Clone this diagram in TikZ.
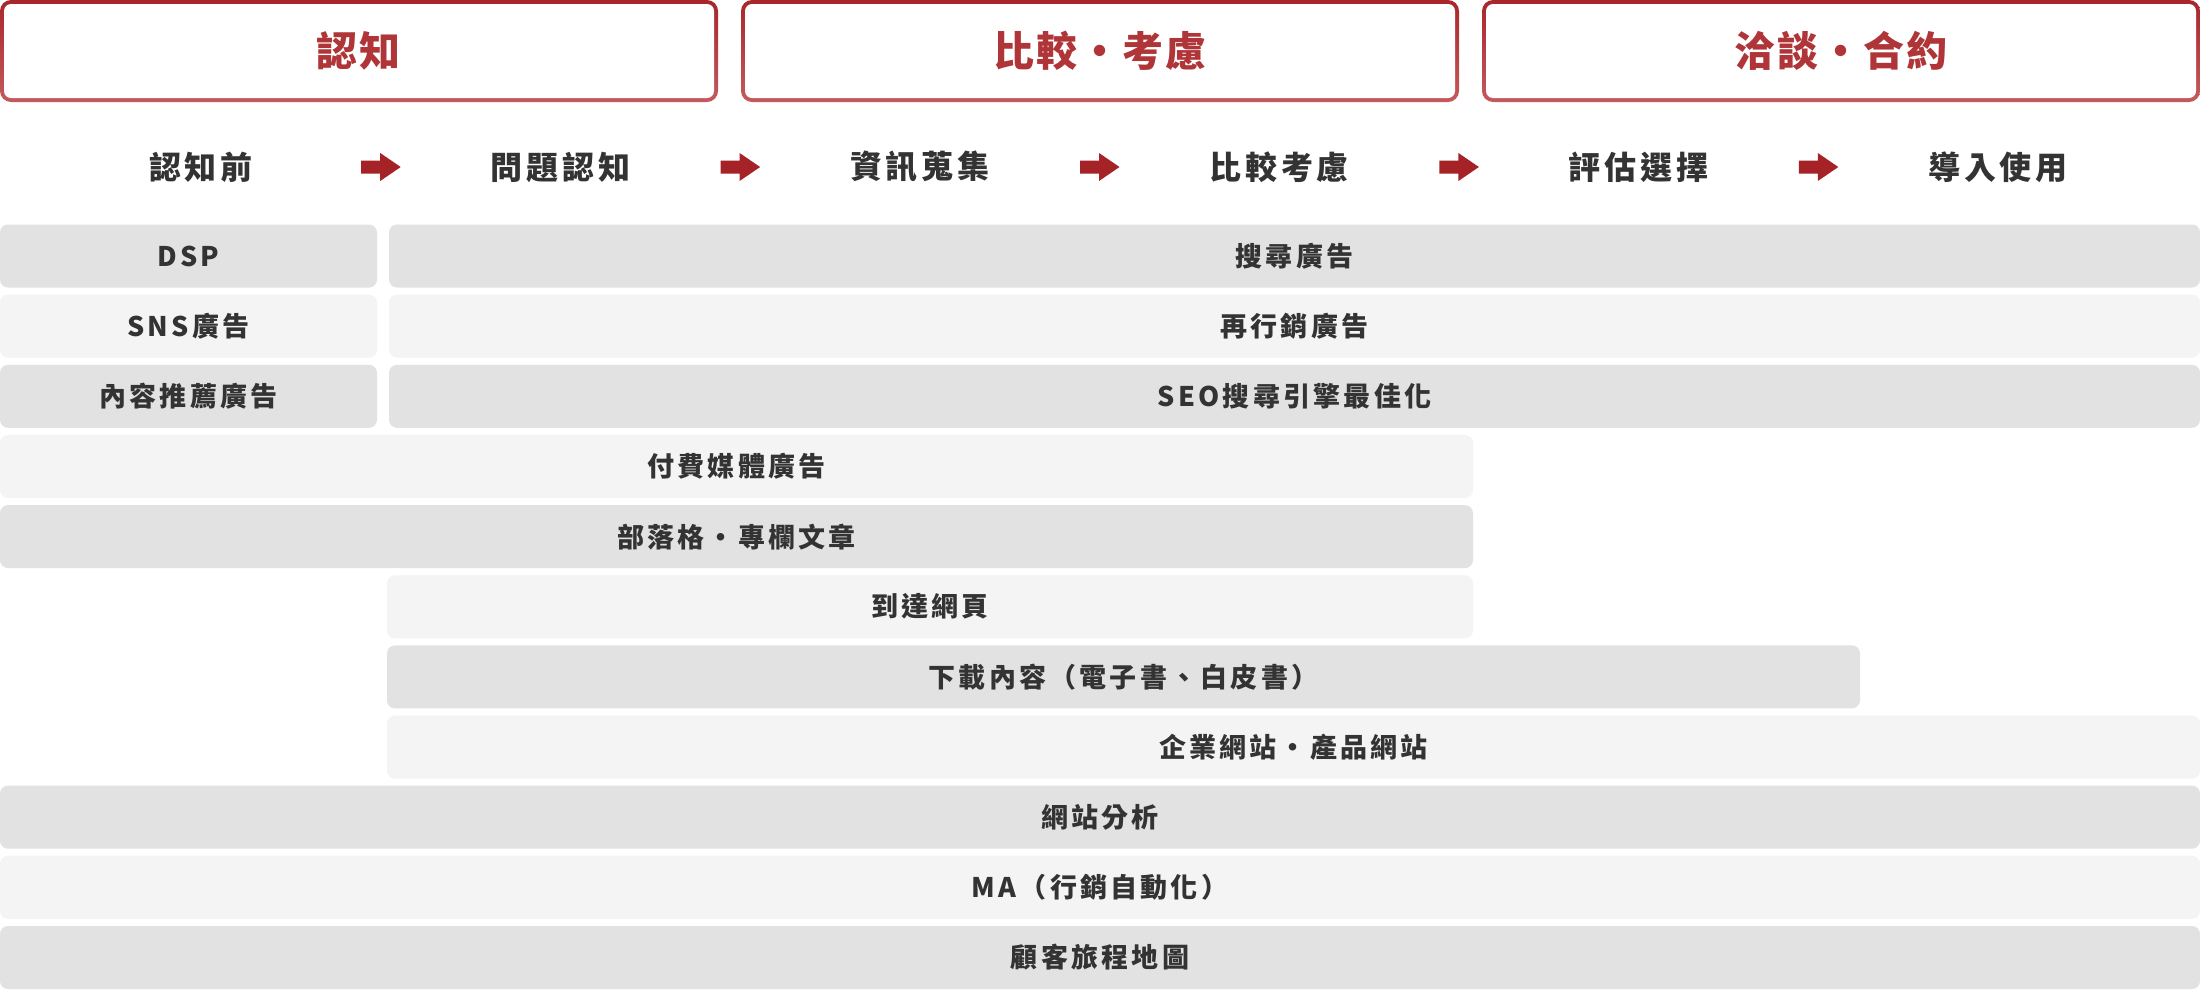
\documentclass[tikz,border=0pt]{standalone}
\usepackage{fontspec}
\usetikzlibrary{calc}
\setmainfont{Noto Sans CJK TC}
\newfontfamily\topfont{Noto Sans CJK TC}[LetterSpace=5]
\newfontfamily\stagefont{Noto Sans CJK TC}[LetterSpace=12]
\newfontfamily\barfont{Noto Sans CJK TC}[LetterSpace=12]
\definecolor{redtop}{HTML}{A8262B}
\definecolor{redbot}{HTML}{C45A5C}
\definecolor{redtext}{HTML}{B03538}
\definecolor{arrowred}{HTML}{A52327}
\definecolor{bardark}{HTML}{E2E2E2}
\definecolor{barlight}{HTML}{F4F4F4}
\definecolor{txt}{HTML}{333333}
\tikzset{
  toplabel/.style={inner sep=0pt, text=redtext, font=\topfont\bfseries\fontsize{41}{48}\selectfont},
  stagelabel/.style={inner sep=0pt, text=txt, font=\stagefont\bfseries\fontsize{32}{38}\selectfont},
  stagearrow/.style={fill=arrowred, draw=none},
  barbox/.style={rounded corners=8pt, inner sep=0pt, minimum height=63pt, text=txt, font=\barfont\bfseries\fontsize{27}{32}\selectfont}
}
\newcommand\mkbar[6]{\node[barbox, fill=#5, minimum width={(#3-#2)*1pt}] (#1) at ({(#2+#3)/2}, {256+70.15*(#4-1)}) {#6};}
\newcommand\mktop[4]{%
  \shade[top color=redtop, bottom color=redbot, rounded corners=11pt] (#2,0) rectangle (#3,102);
  \fill[white, rounded corners=7pt] ({#2+4},4) rectangle ({#3-4},98);
  \node[toplabel] (#1) at ({(#2+#3)/2},51) {#4};}
\newcommand\mkarrow[3]{%
  \coordinate (#1) at ($(#2)!0.5!(#3)$);
  \fill[stagearrow] (#1) ++(-19.5,-6.5) -- ++(19,0) -- ++(0,-7.5) -- ++(20.5,14) -- ++(-20.5,14) -- ++(0,-7.5) -- ++(-19,0) -- cycle;}
\begin{document}
\begin{tikzpicture}[x=1pt,y=-1pt]
\useasboundingbox (0,0) rectangle (2200,989);
\fill[white] (0,0) rectangle (2200,989);
% phase boxes
\mktop{p1}{0}{718}{認知}
\mktop{p2}{741}{1459}{比較・考慮}
\mktop{p3}{1482}{2200}{洽談・合約}
% stages
\node[stagelabel] (s1) at (201,167) {認知前};
\node[stagelabel] (s2) at (560.4,167) {問題認知};
\node[stagelabel] (s3) at (919.8,167) {資訊蒐集};
\node[stagelabel] (s4) at (1279.2,167) {比較考慮};
\node[stagelabel] (s5) at (1638.6,167) {評估選擇};
\node[stagelabel] (s6) at (1998,167) {導入使用};
\mkarrow{a1}{s1}{s2}
\mkarrow{a2}{s2}{s3}
\mkarrow{a3}{s3}{s4}
\mkarrow{a4}{s4}{s5}
\mkarrow{a5}{s5}{s6}
% bars
\mkbar{b1l}{0}{377}{1}{bardark}{DSP}
\mkbar{b1r}{389}{2200}{1}{bardark}{搜尋廣告}
\mkbar{b2l}{0}{377}{2}{barlight}{SNS廣告}
\mkbar{b2r}{389}{2200}{2}{barlight}{再行銷廣告}
\mkbar{b3l}{0}{377}{3}{bardark}{內容推薦廣告}
\mkbar{b3r}{389}{2200}{3}{bardark}{SEO搜尋引擎最佳化}
\mkbar{b4}{0}{1473}{4}{barlight}{付費媒體廣告}
\mkbar{b5}{0}{1473}{5}{bardark}{部落格・專欄文章}
\mkbar{b6}{387}{1473}{6}{barlight}{到達網頁}
\mkbar{b7}{387}{1860}{7}{bardark}{下載內容（電子書、白皮書）}
\mkbar{b8}{387}{2200}{8}{barlight}{企業網站・產品網站}
\mkbar{b9}{0}{2200}{9}{bardark}{網站分析}
\mkbar{b10}{0}{2200}{10}{barlight}{MA（行銷自動化）}
\mkbar{b11}{0}{2200}{11}{bardark}{顧客旅程地圖}
\end{tikzpicture}
\end{document}
